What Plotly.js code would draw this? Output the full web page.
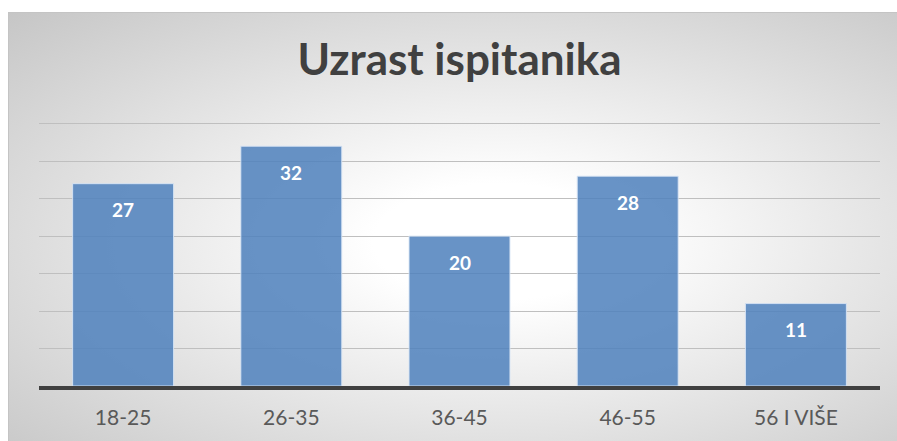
<!DOCTYPE html>
<html>
<head>
<meta charset="utf-8">
<script src="https://cdn.plot.ly/plotly-3.0.1.min.js"></script>
<style>
  html, body { margin: 0; padding: 0; width: 897px; height: 441px; overflow: hidden; background: #ffffff; }
  #bg {
    position: absolute; left: 8px; top: 12px; width: 905px; height: 440px;
    border-top: 1px solid #c4c4c4; border-left: 1px solid #c4c4c4;
    background: radial-gradient(ellipse farthest-corner at 54% 52%, #ffffff 0%, #ffffff 18%, #c6c6c6 100%);
  }
  #chart { position: absolute; left: 0; top: 0; width: 897px; height: 441px; }
</style>
</head>
<body>
<div id="bg"></div>
<div id="chart"></div>
<script>
const categories = ["18-25", "26-35", "36-45", "46-55", "56 I VIŠE"];
const values = [27, 32, 20, 28, 11];
const chartTitle = "Uzrast ispitanika";

const trace = {
  type: "bar",
  x: categories,
  y: values,
  marker: {
    color: "rgba(79,129,189,0.86)",
    line: { color: "rgba(215,228,245,0.9)", width: 1 }
  },
  hoverinfo: "none"
};

const annotations = categories.map((c, i) => ({
  x: c, y: values[i], xref: "x", yref: "y",
  text: String(values[i]), showarrow: false,
  yshift: -26, yanchor: "middle",
  font: { family: "Lato, 'Open Sans', sans-serif", size: 19, color: "#ffffff", weight: 700 }
}));

const layout = {
  width: 897, height: 441,
  paper_bgcolor: "rgba(0,0,0,0)",
  plot_bgcolor: "rgba(0,0,0,0)",
  margin: { l: 39, r: 17, t: 120, b: 55, pad: 0 },
  title: {
    text: "<b>" + chartTitle + "</b>",
    xref: "container", yref: "container",
    x: 459.5 / 897, xanchor: "center",
    y: 1 - 60 / 441, yanchor: "middle",
    font: { family: "Lato, 'Open Sans', sans-serif", size: 44, color: "#404040" }
  },
  bargap: 0.4,
  showlegend: false,
  xaxis: {
    type: "category",
    showgrid: false,
    showline: true, linecolor: "#404040", linewidth: 4,
    ticks: "", ticklabelstandoff: 10,
    tickfont: { family: "Lato, 'Open Sans', sans-serif", size: 21, color: "#595959" },
    fixedrange: true
  },
  yaxis: {
    range: [0, 35.5], dtick: 5, tick0: 0,
    showgrid: true, gridcolor: "#bfbfbf", gridwidth: 1,
    zeroline: false, showticklabels: false, ticks: "",
    fixedrange: true
  },
  annotations: annotations
};

Plotly.newPlot("chart", [trace], layout, { displayModeBar: false, staticPlot: true });
</script>
</body>
</html>
